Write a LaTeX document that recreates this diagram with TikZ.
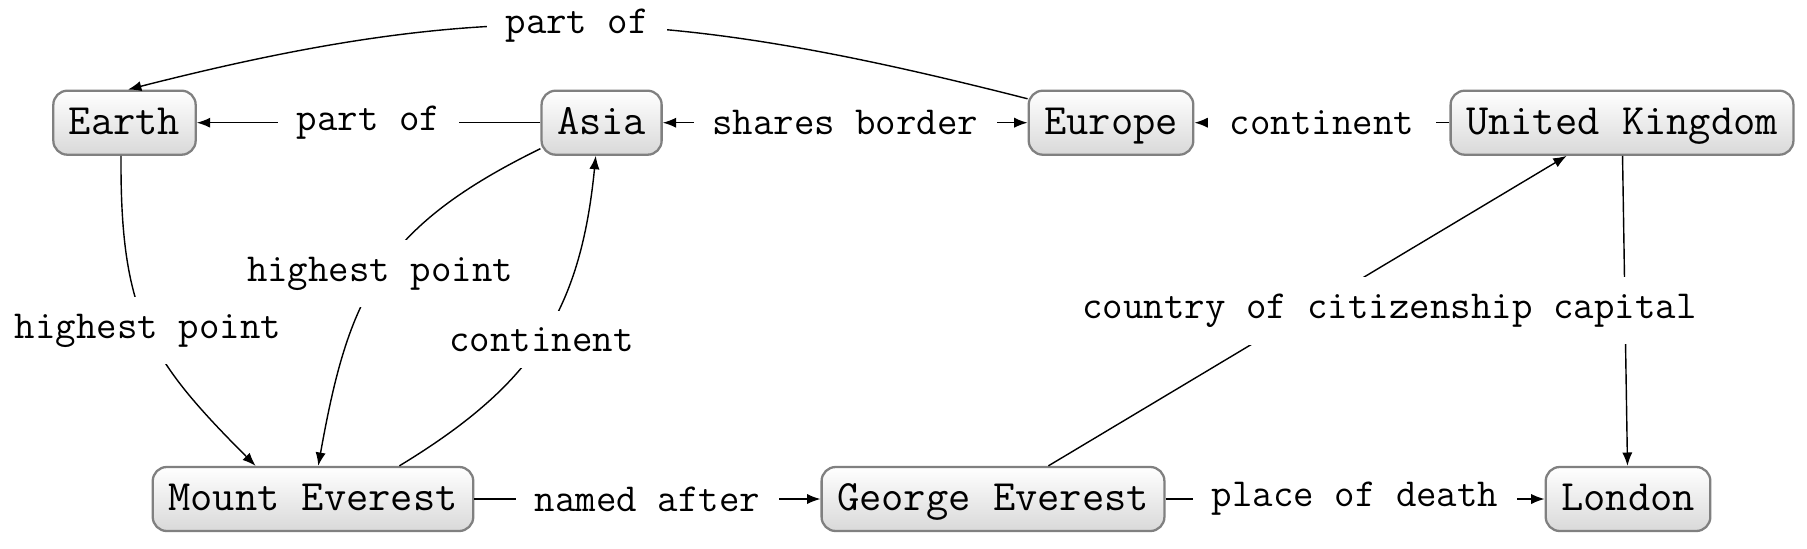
\documentclass[tikz,border=0pt]{standalone}
\usepackage{fontspec}
\usetikzlibrary{arrows.meta}
\tikzset{
  ent/.style={draw=black!50, line width=0.65pt, rounded corners=4pt,
    top color=white, bottom color=black!15,
    font=\ttfamily\fontsize{12.3}{14}\selectfont,
    inner xsep=4.4pt, inner ysep=3.1pt, text height=9.4pt, text depth=2.6pt},
  rel/.style={-{Latex[length=3.8pt,width=2.9pt]}, line width=0.4pt, black},
  relboth/.style={{Latex[length=3.8pt,width=2.9pt]}-{Latex[length=3.8pt,width=2.9pt]}, line width=0.4pt, black},
  lbl/.style={fill=white, font=\ttfamily\fontsize{11.3}{13}\selectfont,
    inner xsep=5.3pt, inner ysep=4.8pt, pos=0.5},
  widelbl/.style={lbl, inner xsep=6.3pt},
  narrowlbl/.style={lbl, inner xsep=2pt},
}
\begin{document}
\begin{tikzpicture}[x=0.01cm,y=-0.01cm]
\useasboundingbox (0,0) rectangle (1807,548);
\node[ent] (earth)  at (124.5,122.7) {Earth};
\node[ent] (asia)   at (601.6,122.7) {Asia};
\node[ent] (europe) at (1111,122.7) {Europe};
\node[ent] (uk)     at (1622,122.7) {United Kingdom};
\node[ent] (me)     at (313,499) {Mount Everest};
\node[ent] (ge)     at (993,499) {George Everest};
\node[ent] (london) at (1628,499) {London};

\draw[rel] (europe.164) .. controls (666,6.6) and (488,-2.3) .. node[lbl]{part of} (earth.84);
\draw[rel] (asia) -- node[lbl]{part of} (earth);
\draw[relboth] (asia) -- node[lbl]{shares border} (europe);
\draw[rel] (uk) -- node[widelbl]{continent} (europe);
\draw[rel] (earth.264) .. controls (120,315) and (149,359) .. node[lbl]{highest point} (me.150);
\draw[rel] (asia.203) .. controls (378.8,227.8) and (348.5,296.6) .. node[lbl]{highest point} (me.81);
\draw[rel] (me.21) .. controls (532.3,385.1) and (580.3,312.9) .. node[lbl]{continent} (asia.260);
\draw[rel] (me) -- node[lbl]{named after} (ge);
\draw[rel] (ge) -- node[lbl]{place of death} (london);
\draw[rel] (ge) -- node[narrowlbl]{country of citizenship} (uk);
\draw[rel] (uk) -- node[narrowlbl]{capital} (london);
\end{tikzpicture}
\end{document}
